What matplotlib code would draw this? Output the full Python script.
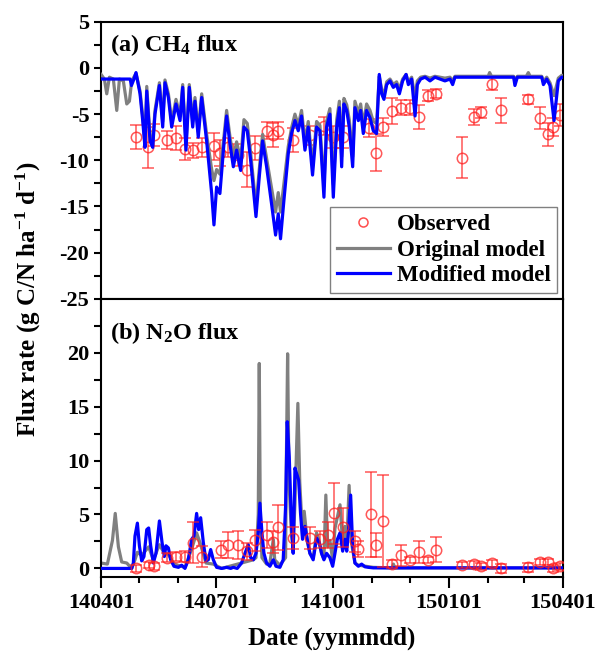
import datetime
import numpy as np
import matplotlib
matplotlib.use('Agg')
from matplotlib import pyplot as plt
from matplotlib import dates as mdates
from matplotlib.lines import Line2D

plt.rcParams['font.family'] = 'Liberation Serif'
plt.rcParams['font.weight'] = 'bold'
plt.rcParams['axes.labelweight'] = 'bold'
plt.rcParams['mathtext.fontset'] = 'custom'
plt.rcParams['mathtext.rm'] = 'Liberation Serif:bold'
plt.rcParams['mathtext.bf'] = 'Liberation Serif:bold'
plt.rcParams['mathtext.it'] = 'Liberation Serif:bold:italic'
plt.rcParams['axes.unicode_minus'] = False

# days since 2014-04-01
ch4_obs_days = [28, 37, 42, 52, 59, 66, 73, 80, 89, 94, 100, 108, 115, 122, 131, 136, 140, 152, 165, 176,
                183, 191, 212, 217, 223, 230, 237, 244, 251, 258, 265, 285, 295, 300, 309, 316, 337, 347, 353, 357, 363]
ch4_obs = [-7.5, -8.6, -7.3, -7.8, -7.6, -8.8, -8.9, -8.6, -8.5, -9.2, -8.6, -9.4, -11.0, -8.7, -6.8, -7.3, -6.8, -7.8, -7.3, -6.3,
           -7.5, -7.5, -6.5, -9.2, -6.4, -4.7, -4.3, -4.3, -5.3, -3.0, -2.8, -9.7, -5.3, -4.8, -1.7, -4.6, -3.4, -5.4, -7.2, -6.4, -5.1]
ch4_err = [1.3, 2.2, 1.2, 1.0, 1.3, 1.2, 0.8, 1.0, 1.5, 1.4, 1.0, 1.2, 1.9, 1.3, 0.9, 1.3, 0.9, 1.3, 1.0, 1.0,
           1.2, 1.2, 1.0, 2.0, 1.0, 1.4, 0.8, 0.8, 1.3, 0.6, 0.5, 2.2, 0.9, 0.6, 0.7, 1.4, 0.5, 1.2, 1.2, 1.0, 1.2]

ch4_mod_days = [0, 23, 24, 26, 27.6, 30.8, 32.9, 34.7, 36.1, 38.7, 40.8, 42.6, 46.1, 48.7, 50.5, 53.2, 55.8, 59.2, 62.4, 64.5,
                67.1, 69.7, 72.4, 74.2, 76.8, 79.5, 83.4, 87.4, 89.2, 91.3, 93.9, 97.1, 99.2, 101.8, 104.5, 107.1, 110.3, 112.9, 115.5, 118.2,
                122.4, 125, 127.6, 130.8, 134.7, 137.9, 140, 141.8, 144.5, 147.9, 150.5, 153.2, 155.8, 158.4, 161.1, 163.7, 167.1, 170.3, 172.9, 176.1,
                178.2, 180.8, 183.5, 186.2, 188.3, 190.1, 191.9, 194.1, 196.1, 198.8, 200.6, 203.3, 205.1, 207.2, 209.8, 212.5, 215.1, 217.7, 219.8, 221.7,
                223.5, 225.7, 228.3, 230.9, 233.5, 235.7, 238.3, 241, 242.8, 245.4, 248.1, 249.9, 252.5, 256, 259.9, 263.8, 267.8, 271.7, 275.7, 277.8,
                279.6, 326, 327, 328.9, 348.2, 349.5, 352.1, 354.7, 357.9, 361.3, 364, 365]
ch4_mod = [-1.2, -1.2, -1.9, -1.2, -0.5, -2.8, -5.7, -8.6, -2.5, -7.9, -8.6, -5.0, -1.9, -6.4, -1.6, -3.2, -6.4, -3.9, -5.7, -2.1,
           -8.9, -2.1, -6.4, -3.6, -7.5, -3.2, -7.9, -13.6, -17.0, -12.9, -13.6, -8.2, -5.2, -8.2, -10.7, -8.9, -11.1, -6.4, -6.8, -10.0,
           -16.1, -11.8, -7.9, -10.7, -14.7, -18.1, -15.8, -18.5, -14.3, -9.3, -7.1, -5.7, -6.8, -5.2, -8.9, -6.4, -11.6, -6.4, -6.8, -14.0,
           -6.4, -5.0, -14.0, -6.4, -4.3, -10.7, -3.9, -4.6, -6.4, -10.7, -4.3, -5.7, -4.6, -7.1, -4.6, -5.4, -6.8, -7.1, -0.7, -2.8,
           -3.4, -1.8, -1.4, -2.1, -1.8, -2.8, -1.4, -0.7, -1.8, -1.2, -5.2, -1.8, -1.2, -1.0, -1.4, -1.0, -1.2, -1.4, -1.2, -1.8,
           -1.0, -1.0, -1.9, -1.0, -1.0, -1.8, -1.2, -1.9, -5.7, -1.4, -1.0, -1.0]

ch4_orig_days = [0, 2.6, 4.5, 6.6, 9.7, 12.4, 14.5, 17.6, 20.3, 22.4, 24.2, 27.6, 30.8, 32.9, 34.7, 36.1, 38.7, 40.8, 42.6, 46.1,
                 48.7, 50.5, 53.2, 55.8, 59.2, 62.4, 64.5, 67.1, 69.7, 72.4, 74.2, 76.8, 79.5, 83.4, 87.4, 89.2, 91.3, 93.9, 97.1, 99.2,
                 101.8, 104.5, 107.1, 110.3, 112.9, 115.5, 118.2, 122.4, 125, 127.6, 130.8, 134.7, 137.9, 140, 141.8, 144.5, 147.9, 150.5, 153.2, 155.8,
                 158.4, 161.1, 163.7, 167.1, 170.3, 172.9, 176.1, 178.2, 180.8, 183.5, 186.2, 188.3, 190.1, 191.9, 194.1, 196.1, 198.8, 200.6, 203.3, 205.1,
                 207.2, 209.8, 212.5, 215.1, 217.7, 219.8, 221.7, 223.5, 225.7, 228.3, 230.9, 233.5, 235.7, 238.3, 241, 242.8, 245.4, 248.1, 249.9, 252.5,
                 256, 259.9, 263.8, 267.8, 271.7, 275.7, 277.8, 279.6, 305.9, 307, 308.5, 326, 327, 328.9, 336, 337.6, 339, 348.2, 349.5, 352.1,
                 354.7, 357.9, 361.3, 364, 365]
ch4_orig = [-0.7, -1.2, -2.8, -1.0, -1.2, -4.6, -1.2, -1.4, -3.9, -3.6, -1.4, -0.6, -2.5, -5.2, -8.0, -2.0, -7.4, -8.0, -4.6, -1.6,
            -5.8, -1.3, -2.8, -5.8, -3.4, -5.2, -1.8, -8.3, -1.8, -5.8, -3.2, -6.9, -2.8, -7.2, -11.0, -12.2, -11.0, -11.5, -7.4, -4.6,
            -7.4, -9.8, -8.0, -10.0, -5.6, -6.0, -9.2, -15.0, -11.0, -7.2, -9.8, -13.0, -15.6, -13.5, -15.6, -12.5, -8.5, -6.5, -5.0, -6.2,
            -4.6, -8.0, -5.8, -10.6, -5.8, -6.2, -12.8, -5.8, -4.4, -12.6, -5.6, -3.6, -9.6, -3.3, -4.0, -5.6, -9.6, -3.6, -4.9, -3.9,
            -6.2, -3.9, -4.6, -5.8, -6.0, -0.9, -2.3, -2.9, -1.5, -1.2, -1.8, -1.5, -2.3, -1.2, -0.7, -1.5, -1.0, -3.2, -1.4, -1.0,
            -0.9, -1.1, -0.9, -1.0, -1.1, -1.0, -1.4, -0.9, -0.9, -0.5, -0.9, -0.9, -1.5, -0.9, -0.9, -0.5, -0.9, -0.9, -1.5, -1.0,
            -1.6, -3.0, -1.1, -0.8, -0.8]

n2o_obs_days = [28, 38, 42, 52, 59, 66, 73, 80, 95, 100, 108, 115, 122, 131, 136, 140, 152, 165, 173, 179,
                184, 191, 201, 203, 213, 217, 223, 230, 237, 244, 251, 258, 265, 285, 295, 300, 309, 316, 337, 347,
                353, 357, 363]
n2o_obs = [0.0, 0.3, 0.2, 1.0, 1.1, 1.1, 2.4, 1.1, 1.75, 2.2, 2.2, 1.6, 2.6, 3.1, 2.45, 3.8, 2.8, 2.8, 2.7, 3.1,
           5.1, 3.8, 2.5, 1.8, 5.0, 2.15, 4.4, 0.4, 1.2, 0.8, 1.5, 0.8, 1.75, 0.3, 0.37, 0.2, 0.46, 0.0, 0.1, 0.6,
           0.6, 0.0, 0.2]
n2o_err = [0.3, 0.3, 0.3, 0.4, 0.4, 0.5, 1.9, 1.0, 0.8, 1.2, 1.3, 0.8, 1.0, 1.2, 1.0, 2.1, 1.0, 1.0, 0.8, 1.2,
           2.8, 1.8, 1.0, 0.7, 3.9, 1.1, 4.3, 0.4, 1.0, 0.3, 1.0, 0.3, 1.2, 0.3, 0.3, 0.3, 0.3, 0.4, 0.4, 0.3,
           0.3, 0.3, 0.3]

n2o_mod_days = [0, 24.2, 25.5, 26.8, 28.7, 30.3, 32.1, 33.9, 36.1, 37.6, 39.2, 41.3, 43.4, 46.1, 48.2, 50, 51.3, 53.2, 55, 57.6,
                61.1, 63.7, 66.3, 68.9, 71.6, 73.4, 75.5, 77.1, 78.7, 80.8, 82.9, 84.7, 86.6, 88.7, 91.3, 95.3, 99.2, 102.4, 104.5, 107.6,
                111, 113.7, 116.3, 118.2, 120.3, 122.4, 124.2, 125.5, 127.1, 128.7, 130.8, 133.4, 136.1, 138.2, 141.3, 143.9, 145.8, 147.1, 148.7, 150.5,
                151.8, 153.2, 154.5, 156.1, 157.6, 159.2, 161.1, 162.9, 165, 167.6, 170.3, 172.4, 174.2, 176.1, 178.2, 180.8, 183, 184.8, 186.7, 188.8,
                190.9, 192.7, 194.1, 195.4, 197.2, 198.8, 200.6, 203.3, 205.9, 208.5, 211.2, 215.1, 365]
n2o_mod = [0, 0, 0.5, 3.0, 4.2, 2.1, 0.7, 1.1, 3.6, 3.75, 2.1, 0.5, 1.4, 4.4, 2.4, 1.1, 2.1, 1.9, 0.8, 0.2,
           0.1, 0.3, 0, 0.8, 2.7, 3.0, 5.1, 3.6, 4.7, 2.4, 0.7, 0.8, 1.75, 0.8, 0.1, 0, 0.1, 0, 0.1, 0,
           0.5, 1.4, 2.2, 1.0, 0.8, 1.4, 3.3, 6.05, 3.3, 1.4, 0.5, 0.2, 0.8, 0.2, 0.1, 0.8, 5.75, 13.6, 10.35, 3.9,
           1.4, 9.3, 8.8, 8.2, 5.1, 2.7, 3.9, 2.7, 1.4, 0.8, 2.8, 2.4, 1.4, 0.8, 1.4, 1.0, 0.2, 1.4, 2.7, 3.3,
           1.6, 2.7, 1.6, 3.3, 6.8, 2.1, 0.5, 0.2, 0.4, 0.15, 0.1, 0.05, 0.05]

n2o_orig_days = [0, 5, 9, 11.2, 13.7, 16.3, 20.3, 24.2, 26.8, 28.7, 32.1, 37.6, 41.3, 46.1, 50, 53.2, 57.6, 66.3, 71.6, 75.5,
                 78.7, 82.9, 88.7, 95.3, 120.3, 122.4, 124.2, 125, 125.8, 127.1, 130.8, 133.4, 136.1, 137.2, 141.3, 145.8, 146.4, 147.4, 148.5, 150.5,
                 151.8, 153.2, 155.5, 157, 159.2, 160.5, 162.9, 165, 167.6, 170.3, 172.4, 174.2, 176.1, 177.6, 179, 180.8, 183, 184.8, 188.8, 190.9,
                 192.7, 194.1, 196, 197.8, 200.6, 203.3, 215, 230, 231, 232, 365]
n2o_orig = [0.5, 0.4, 2.6, 5.1, 2.0, 0.6, 0.5, 0, 0.8, 1.5, 1.2, 2.0, 0.8, 2.2, 1.4, 1.3, 0.4, 0.1, 1.8, 3.3,
            2.2, 0.5, 0.4, 0, 0.8, 1.0, 5.0, 19.0, 5.0, 1.0, 0.4, 0.5, 2.7, 0.8, 0.3, 1.0, 10.0, 19.9, 8.0, 3.0,
            2.0, 6.0, 15.3, 8.0, 3.0, 5.3, 2.5, 1.4, 1.0, 3.3, 2.5, 1.4, 0.9, 6.8, 2.0, 2.6, 0.8, 3.7, 5.9, 2.4,
            3.9, 2.1, 7.7, 2.4, 0.5, 0.3, 0.1, 0.05, 0.4, 0.05, 0.05]

start = mdates.date2num(datetime.datetime(2014, 4, 1))
end = mdates.date2num(datetime.datetime(2015, 4, 1))


def to_x(days):
    return start + np.array(days, dtype=float)


fig = plt.figure(figsize=(5.98, 6.61), dpi=100)
ax1 = fig.add_axes([0.169, 0.548, 0.7725, 0.419])
ax2 = fig.add_axes([0.169, 0.127, 0.7725, 0.421])

red = '#ff2020'

# (a) CH4
ax1.errorbar(to_x(ch4_obs_days), ch4_obs, yerr=ch4_err, fmt='o', mfc='none', mec=red, ms=7.5, mew=1.1,
             ecolor=red, elinewidth=1.1, capsize=4, capthick=1.1, alpha=0.75, zorder=2)
ax1.plot(to_x(ch4_orig_days), ch4_orig, color='#808080', lw=2.3, zorder=3)
ax1.plot(to_x(ch4_mod_days), ch4_mod, color='#0000ff', lw=2.3, zorder=4)
ax1.set_ylim(-25, 5)
ax1.set_yticks([5, 0, -5, -10, -15, -20, -25])
ax1.set_yticks(np.arange(-22.5, 5, 5), minor=True)
ax1.text(0.02, 0.915, r'(a) CH$_\mathbf{4}$ flux', transform=ax1.transAxes, fontsize=17.5, va='center')

handles = [Line2D([], [], ls='none', marker='o', mfc='none', mec=red, ms=6.5, mew=1.1, alpha=0.8),
           Line2D([], [], color='#808080', lw=2.3),
           Line2D([], [], color='#0000ff', lw=2.3)]
leg = ax1.legend(handles, ['Observed', 'Original model', 'Modified model'], loc='lower right',
                 fontsize=16.5, frameon=True, fancybox=False, edgecolor='#808080', framealpha=1,
                 handlelength=2.3, handletextpad=0.3, labelspacing=0.2, borderpad=0.3, borderaxespad=0.25)
leg.get_frame().set_linewidth(1.0)

# (b) N2O
ax2.plot(to_x(n2o_orig_days), n2o_orig, color='#808080', lw=2.3, zorder=2)
ax2.plot(to_x(n2o_mod_days), n2o_mod, color='#0000ff', lw=2.3, zorder=3)
ax2.errorbar(to_x(n2o_obs_days), n2o_obs, yerr=n2o_err, fmt='o', mfc='none', mec=red, ms=7.5, mew=1.1,
             ecolor=red, elinewidth=1.1, capsize=4, capthick=1.1, alpha=0.75, zorder=4)
ax2.set_ylim(-0.8, 25)
ax2.set_yticks([0, 5, 10, 15, 20])
ax2.set_yticks(np.arange(2.5, 25, 5), minor=True)
ax2.text(0.02, 0.878, r'(b) N$_\mathbf{2}$O flux', transform=ax2.transAxes, fontsize=17.5, va='center')

for ax in (ax1, ax2):
    ax.set_xlim(start, end)
    ax.xaxis.set_major_locator(mdates.MonthLocator(bymonth=[1, 4, 7, 10]))
    ax.xaxis.set_minor_locator(mdates.MonthLocator())
    ax.xaxis.set_major_formatter(mdates.DateFormatter('%y%m%d'))
    ax.tick_params(axis='x', which='major', direction='out', length=8, width=1.5, labelsize=16)
    ax.tick_params(axis='x', which='minor', direction='out', length=4.5, width=1.5)
    ax.tick_params(axis='y', which='both', direction='out', length=5, width=1.5, labelsize=16)
    for sp in ax.spines.values():
        sp.set_linewidth(1.5)

ax1.tick_params(axis='x', which='both', labelbottom=False)
ax2.set_xlabel('Date (yymmdd)', fontsize=18, fontweight='bold', labelpad=10)
fig.text(0.048, 0.547, r'Flux rate (g C/N ha$^\mathbf{-1}$ d$^\mathbf{-1}$)', rotation=90,
         fontsize=18, fontweight='bold', va='center', ha='center')

fig.savefig('out.png', dpi=100)
print('done')
